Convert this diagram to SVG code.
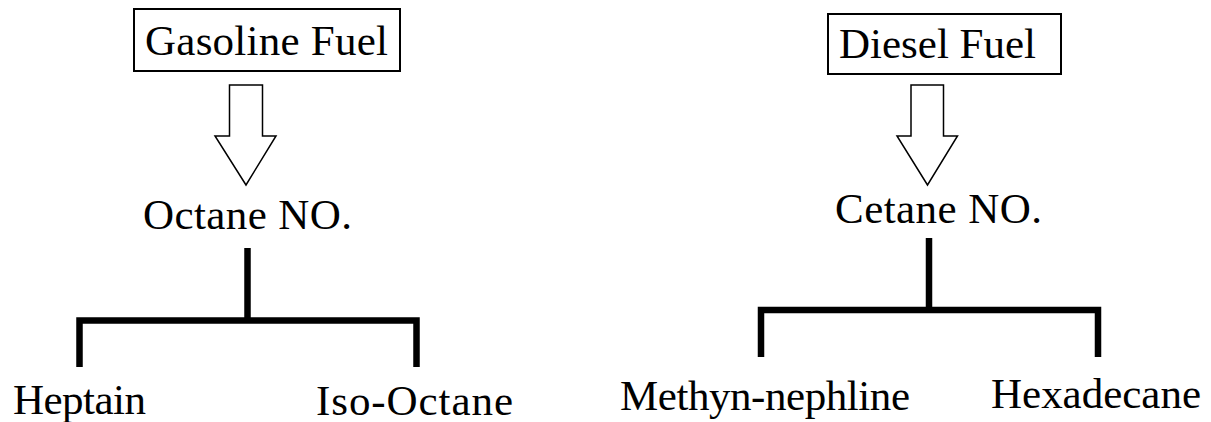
<svg xmlns="http://www.w3.org/2000/svg" width="1211" height="422" viewBox="0 0 1211 422">
<style>
text{font-family:"Liberation Serif","Times New Roman",serif;font-size:43px;fill:#000}
.box{fill:#fff;stroke:#000;stroke-width:2}
.arrow{fill:#fff;stroke:#000;stroke-width:1.5;stroke-linejoin:miter}
.tree{fill:none;stroke:#000;stroke-width:6.5;stroke-linecap:butt;stroke-linejoin:miter}
</style>
<rect width="1211" height="422" fill="#fff"/>
<g id="gasoline">
<rect class="box" x="134" y="9" width="266" height="62"/>
<text x="145" y="55" textLength="243">Gasoline Fuel</text>
</g>
<g id="diesel">
<rect class="box" x="828" y="14" width="233" height="60"/>
<text x="839" y="58" textLength="197">Diesel Fuel</text>
</g>
<g id="octane">
<text x="143" y="229" textLength="209">Octane NO.</text>
</g>
<g id="cetane">
<text x="835" y="223" textLength="207">Cetane NO.</text>
</g>
<g id="heptain"><text x="13" y="414" textLength="133">Heptain</text></g>
<g id="isooctane"><text x="316" y="415" textLength="197">Iso-Octane</text></g>
<g id="methyn"><text x="620" y="410" textLength="290">Methyn-nephline</text></g>
<g id="hexadecane"><text x="991" y="408" textLength="210">Hexadecane</text></g>
<g id="connectors">
<path class="arrow" d="M229.5 85 H262.5 V136 H276 L246 185 L215 136 H229.5 Z"/>
<path class="arrow" d="M911 85 H943.5 V136 H957.5 L927.5 185 L897 136 H911 Z"/>
<path class="tree" d="M247.5 248 V320"/>
<path class="tree" d="M79.5 367 V320.5 H416.5 V367"/>
<path class="tree" d="M929 238 V310"/>
<path class="tree" d="M761 357 V310 H1098 V357"/>
</g>
</svg>
